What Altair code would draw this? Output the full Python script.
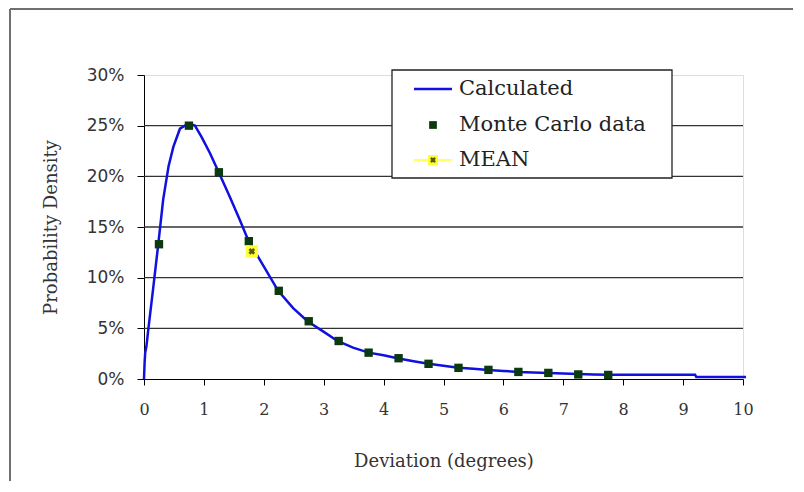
import altair as alt
import pandas as pd

# Calculated curve, x in degrees, y in %
calc_x = [0, 0.01, 0.02, 0.04, 0.07, 0.15, 0.24, 0.32, 0.41, 0.49, 0.6, 0.74, 0.85, 0.96,
          1.1, 1.24, 1.43, 1.6, 1.74, 1.94, 2.24, 2.49, 2.73, 2.99, 3.23, 3.49, 3.75, 4.0,
          4.23, 4.5, 4.75, 5.0, 5.25, 5.5, 5.75, 6.0, 6.25, 6.5, 6.75, 7.0, 7.25, 7.5,
          7.75, 8.0, 8.5, 9.0, 9.2, 9.22, 10.05]
calc_y = [0, 1.6, 2.6, 3.2, 4.8, 8.8, 13.4, 17.7, 21.0, 22.9, 24.7, 25.2, 25.0, 23.9,
          22.3, 20.5, 18.0, 15.7, 13.7, 11.7, 8.7, 7.0, 5.7, 4.7, 3.75, 3.1, 2.6, 2.35,
          2.05, 1.75, 1.5, 1.3, 1.1, 1.0, 0.9, 0.8, 0.7, 0.65, 0.6, 0.55, 0.5, 0.45,
          0.42, 0.42, 0.42, 0.42, 0.42, 0.2, 0.2]

# Monte Carlo data
mc_x = [0.25, 0.75, 1.25, 1.75, 2.25, 2.75, 3.25, 3.75, 4.25, 4.75, 5.25, 5.75, 6.25,
        6.75, 7.25, 7.75]
mc_y = [13.3, 25.0, 20.4, 13.6, 8.7, 5.7, 3.75, 2.6, 2.05, 1.5, 1.1, 0.9, 0.7, 0.6,
        0.45, 0.4]

# Mean
mean_x = [1.80]
mean_y = [12.6]

grid_vals = [0.05, 0.10, 0.15, 0.20, 0.25]
y_ticks = [0, 0.05, 0.10, 0.15, 0.20, 0.25, 0.30]
x_ticks = list(range(0, 11))

calc = pd.DataFrame({"x": calc_x, "y": [v / 100 for v in calc_y]})
mc = pd.DataFrame({"x": mc_x, "y": [v / 100 for v in mc_y]})
mean = pd.DataFrame({"x": mean_x, "y": [v / 100 for v in mean_y]})
grid = pd.DataFrame({"y": grid_vals})

SERIF = "DejaVu Serif"
SANS = "DejaVu Sans"

xscale = alt.Scale(domain=[0, 10], nice=False)
yscale = alt.Scale(domain=[0, 0.30], nice=False)

xaxis = alt.Axis(values=x_ticks, format="d", title="Deviation (degrees)", grid=False,
                 labelFont=SERIF, labelFontSize=16, labelColor="#333333",
                 labelPadding=16, tickSize=6, tickColor="#000000", labelFlush=False,
                 domainColor="#000000", titleFont=SERIF, titleFontSize=18,
                 titleFontWeight="normal", titleColor="#333333", titlePadding=35)
yaxis = alt.Axis(values=y_ticks, format=".0%", title="Probability Density", grid=False,
                 labelFont=SANS, labelFontSize=17, labelColor="#333333",
                 labelPadding=13, tickSize=7, tickColor="#000000",
                 domainColor="#000000", titleFont=SERIF, titleFontSize=18,
                 titleFontWeight="normal", titleColor="#333333", titlePadding=26)

gridlines = alt.Chart(grid).mark_rule(color="#333333", strokeWidth=1.3).encode(
    y=alt.Y("y:Q", scale=yscale, axis=yaxis)
)

line = alt.Chart(calc).mark_line(color="#1010e0", strokeWidth=2.5, clip=False).encode(
    x=alt.X("x:Q", scale=xscale, axis=xaxis),
    y=alt.Y("y:Q", scale=yscale, axis=yaxis),
)

mc_pts = alt.Chart(mc).mark_square(color="#0b3a10", size=70, opacity=1).encode(
    x=alt.X("x:Q", scale=xscale), y=alt.Y("y:Q", scale=yscale)
)

mean_bg = alt.Chart(mean).mark_square(color="#ffff33", size=150, opacity=1).encode(
    x=alt.X("x:Q", scale=xscale), y=alt.Y("y:Q", scale=yscale)
)
mean_x_mark = alt.Chart(mean).mark_point(shape="cross", angle=45, color="#5a5a10",
                                         size=45, filled=True, opacity=1).encode(
    x=alt.X("x:Q", scale=xscale), y=alt.Y("y:Q", scale=yscale)
)

# Outer frame lines (left, top, bottom)
frame_color = "#707070"
frame_left = alt.Chart(grid.head(1)).mark_rule(color=frame_color, strokeWidth=2).encode(
    x=alt.value(-134), y=alt.value(-66), y2=alt.value(408))
frame_top = alt.Chart(grid.head(1)).mark_rule(color=frame_color, strokeWidth=2).encode(
    x=alt.value(-134), x2=alt.value(660), y=alt.value(-66))
frame_bottom = alt.Chart(grid.head(1)).mark_rule(color=frame_color, strokeWidth=2).encode(
    x=alt.value(-134), x2=alt.value(660), y=alt.value(408))

# Legend box (plot-area pixel coordinates)
leg_df = pd.DataFrame({"k": [0]})
leg_box = alt.Chart(leg_df).mark_rect(fill="white", stroke="#222222", strokeWidth=1.3).encode(
    x=alt.value(248), x2=alt.value(528), y=alt.value(-5), y2=alt.value(103))
leg_line = alt.Chart(leg_df).mark_rule(color="#1010e0", strokeWidth=2.5).encode(
    x=alt.value(270), x2=alt.value(308), y=alt.value(14))
leg_sq = alt.Chart(leg_df).mark_square(color="#0b3a10", size=60, opacity=1).encode(
    x=alt.value(289), y=alt.value(50))
leg_yline = alt.Chart(leg_df).mark_rule(color="#ffff33", strokeWidth=1.5).encode(
    x=alt.value(270), x2=alt.value(308), y=alt.value(85))
leg_ysq = alt.Chart(leg_df).mark_square(color="#ffff33", size=100, opacity=1).encode(
    x=alt.value(289), y=alt.value(85))
leg_yx = alt.Chart(leg_df).mark_point(shape="cross", angle=45, color="#5a5a10", size=35,
                                      filled=True, opacity=1).encode(
    x=alt.value(289), y=alt.value(85))
leg_texts = []
for label, yy in [("Calculated", 14), ("Monte Carlo data", 50), ("MEAN", 85)]:
    leg_texts.append(alt.Chart(leg_df).mark_text(
        align="left", baseline="middle", font=SERIF, fontSize=21, color="#222222"
    ).encode(x=alt.value(315), y=alt.value(yy), text=alt.value(label)))

chart = alt.layer(
    gridlines, line, mc_pts, mean_bg, mean_x_mark,
    frame_left, frame_top, frame_bottom,
    leg_box, leg_line, leg_sq, leg_yline, leg_ysq, leg_yx, *leg_texts
).properties(
    width=599, height=304,
    autosize=alt.AutoSizeParams(type="none"),
    padding={"left": 136, "top": 67, "right": 50, "bottom": 102},
).configure_view(
    stroke="#a8b4ba", strokeWidth=1.5
).configure(background="white")

chart.save("out.html", embed_options={"renderer": "svg", "actions": False})
